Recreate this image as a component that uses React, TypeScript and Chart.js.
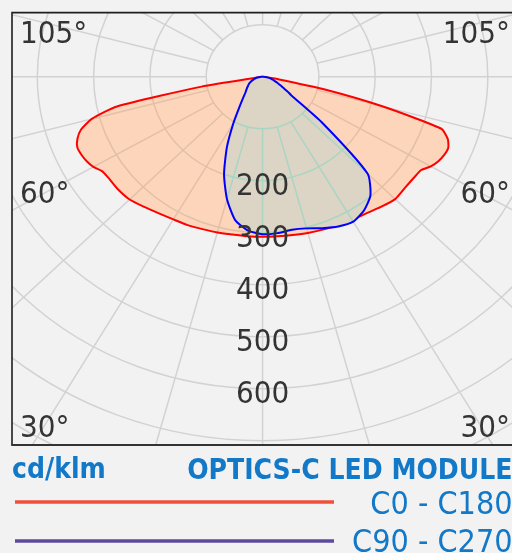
import React, { useEffect, useRef } from 'react';
import { Chart, registerables } from 'chart.js';

Chart.register(...registerables);

// Photometric data: gamma angle (deg from nadir) and intensity (cd/klm)
const GAMMA = [0, 5, 10, 15, 20, 25, 30, 35, 40, 45, 50, 55, 57.5, 60, 62.5, 65, 67.5, 70, 72.5, 75, 77.5, 80, 85, 90];
const C0 = [308, 308, 309, 311, 313, 315, 318, 321, 327, 333, 331, 332, 334, 345, 352, 356, 357, 350, 333, 220, 110, 30, 0, 0];
const C180 = [308, 308, 308, 310, 312, 315, 317, 321, 327, 334, 336, 336, 338, 347, 352, 355, 356, 350, 338, 314, 265, 110, 0, 0];
const C90 = [303, 302, 299, 302, 310, 318, 322, 314, 298, 264, 140, 62, 52, 42, 36, 30, 26, 22, 19, 16, 13, 10, 5, 0];
const C270 = [303, 297, 280, 244, 200, 150, 104, 72, 54, 43, 37, 32, 30, 28, 26, 23, 21, 18, 16, 14, 12, 9, 5, 0];

const RINGS = [100, 200, 300, 400, 500, 600, 700, 800, 900, 1000];
const RING_LABELS = [200, 300, 400, 500, 600];
const SPOKE_STEP = 15;
const ANGLE_LABELS = ['105°', '60°', '30°'];
const UNIT_LABEL = 'cd/klm';
const TITLE = 'OPTICS-C LED MODULE';
const SERIES = ['C0 - C180', 'C90 - C270'];

const X_MIN = -445;
const X_MAX = 443;
const Y_MIN = -708.3;
const Y_MAX = 124.4;

const FONT = '"DejaVu Sans Condensed", "DejaVu Sans", sans-serif';
const BG = '#f2f2f2';
const GRID = '#d2d2d2';
const GRID_RED = '#e2c0a8';
const GRID_BLUE = '#a9d5c2';
const TEXT = '#343434';
const BLUE_TEXT = '#1278c8';

function polarPoints(right: number[], left: number[]) {
  const pts: { x: number; y: number }[] = [];
  for (let i = GAMMA.length - 1; i >= 0; i--) {
    const g = (GAMMA[i] * Math.PI) / 180;
    pts.push({ x: -left[i] * Math.sin(g), y: -left[i] * Math.cos(g) });
  }
  for (let i = 1; i < GAMMA.length; i++) {
    const g = (GAMMA[i] * Math.PI) / 180;
    pts.push({ x: right[i] * Math.sin(g), y: -right[i] * Math.cos(g) });
  }
  return pts;
}

function drawGrid(chart: any, color: string) {
  const { ctx } = chart;
  const xs = chart.scales.x;
  const ys = chart.scales.y;
  const cx = xs.getPixelForValue(0);
  const cy = ys.getPixelForValue(0);
  ctx.strokeStyle = color;
  ctx.lineWidth = 1.5;
  for (const r of RINGS) {
    const rx = xs.getPixelForValue(r) - cx;
    const ry = ys.getPixelForValue(-r) - cy;
    ctx.beginPath();
    ctx.ellipse(cx, cy, rx, ry, 0, 0, Math.PI * 2);
    ctx.stroke();
  }
  const r0 = RINGS[0];
  const r1 = 2000;
  for (let a = 0; a < 360; a += SPOKE_STEP) {
    const t = (a * Math.PI) / 180;
    ctx.beginPath();
    ctx.moveTo(xs.getPixelForValue(r0 * Math.sin(t)), ys.getPixelForValue(-r0 * Math.cos(t)));
    ctx.lineTo(xs.getPixelForValue(r1 * Math.sin(t)), ys.getPixelForValue(-r1 * Math.cos(t)));
    ctx.stroke();
  }
}

function clipArea(chart: any) {
  const { ctx, chartArea: a } = chart;
  ctx.beginPath();
  ctx.rect(a.left, a.top, a.right - a.left, a.bottom - a.top);
  ctx.clip();
}

const photometricPlugin = {
  id: 'photometric',
  beforeDraw(chart: any) {
    const { ctx, width, height } = chart;
    ctx.save();
    ctx.fillStyle = BG;
    ctx.fillRect(0, 0, width, height);
    ctx.restore();
  },
  beforeDatasetsDraw(chart: any) {
    const { ctx } = chart;
    ctx.save();
    clipArea(chart);
    drawGrid(chart, GRID);
    ctx.restore();
  },
  beforeDatasetDraw(chart: any, args: any) {
    const meta = chart.getDatasetMeta(args.index);
    if (!meta.dataset) return;
    const { ctx } = chart;
    ctx.save();
    clipArea(chart);
    ctx.beginPath();
    meta.dataset.path(ctx);
    ctx.closePath();
    ctx.clip();
    drawGrid(chart, args.index === 0 ? GRID_RED : GRID_BLUE);
    ctx.restore();
  },
  afterDatasetsDraw(chart: any) {
    const { ctx, chartArea: a } = chart;
    const xs = chart.scales.x;
    const ys = chart.scales.y;
    const cx = xs.getPixelForValue(0);
    ctx.save();
    clipArea(chart);
    ctx.fillStyle = TEXT;
    ctx.font = `31px ${FONT}`;
    ctx.textAlign = 'center';
    ctx.textBaseline = 'alphabetic';
    for (const r of RING_LABELS) {
      ctx.fillText(String(r), cx, ys.getPixelForValue(-r) + 14.5);
    }
    const ly = [a.top + 31.3, a.top + 191.3, a.top + 424.7];
    ANGLE_LABELS.forEach((t, i) => {
      ctx.textAlign = 'left';
      ctx.fillText(t, a.left + 8, ly[i]);
      ctx.textAlign = 'right';
      ctx.fillText(t, a.right - 2, ly[i]);
    });
    ctx.restore();

    ctx.save();
    ctx.strokeStyle = '#1e1e1e';
    ctx.lineWidth = 1.6;
    ctx.beginPath();
    ctx.moveTo(a.right + 5, a.top + 0.6);
    ctx.lineTo(a.left, a.top + 0.6);
    ctx.lineTo(a.left, a.bottom);
    ctx.stroke();
    ctx.lineWidth = 2.2;
    ctx.strokeStyle = '#333333';
    ctx.beginPath();
    ctx.moveTo(a.left - 0.8, a.bottom);
    ctx.lineTo(a.right + 5, a.bottom);
    ctx.stroke();
    ctx.restore();
  },
  afterDraw(chart: any) {
    const { ctx, chartArea: a } = chart;
    ctx.save();
    ctx.fillStyle = BLUE_TEXT;
    ctx.font = `bold 28px ${FONT}`;
    ctx.textBaseline = 'alphabetic';
    ctx.textAlign = 'left';
    ctx.fillText(UNIT_LABEL, a.left, 477.5);
    ctx.textAlign = 'right';
    ctx.fillText(TITLE, 512.5, 479.3);

    const legendColors = ['#f0503c', '#5c4b9c'];
    const rowY = [502, 541];
    const textY = [514, 552];
    ctx.font = `32px ${FONT}`;
    SERIES.forEach((s, i) => {
      ctx.strokeStyle = legendColors[i];
      ctx.lineWidth = 3.5;
      ctx.beginPath();
      ctx.moveTo(15, rowY[i]);
      ctx.lineTo(334, rowY[i]);
      ctx.stroke();
      ctx.fillStyle = BLUE_TEXT;
      ctx.fillText(s, 512.5, textY[i]);
    });
    ctx.restore();
  },
};

export default function App() {
  const ref = useRef<HTMLCanvasElement | null>(null);
  useEffect(() => {
    if (!ref.current) return;
    const chart = new Chart(ref.current, {
      type: 'scatter',
      data: {
        datasets: [
          {
            label: SERIES[0],
            data: polarPoints(C0, C180),
            showLine: true,
            borderColor: '#ff0000',
            borderWidth: 2,
            backgroundColor: '#fdd5bb',
            fill: 'shape',
            pointRadius: 0,
            tension: 0.2,
            order: 2,
          } as any,
          {
            label: SERIES[1],
            data: polarPoints(C90, C270),
            showLine: true,
            borderColor: '#0000ff',
            borderWidth: 2,
            backgroundColor: '#dcd4c5',
            fill: 'shape',
            pointRadius: 0,
            tension: 0.2,
            order: 1,
          } as any,
        ],
      },
      options: {
        responsive: false,
        animation: false,
        devicePixelRatio: 1,
        layout: { padding: { left: 12, top: 12, right: 0, bottom: 108 } },
        scales: {
          x: { type: 'linear', min: X_MIN, max: X_MAX, display: false },
          y: { type: 'linear', min: Y_MIN, max: Y_MAX, display: false },
        },
        plugins: {
          legend: { display: false },
          tooltip: { enabled: false },
        },
      },
      plugins: [photometricPlugin],
    });
    return () => chart.destroy();
  }, []);
  return (
    <div style={{ position: 'fixed', left: 0, top: 0, width: 512, height: 553, background: BG, overflow: 'hidden' }}>
      <canvas ref={ref} width={512} height={553} style={{ display: 'block' }} />
    </div>
  );
}
